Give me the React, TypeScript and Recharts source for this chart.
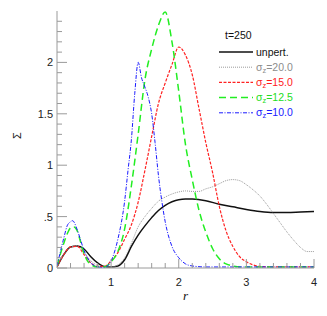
import React from 'react';
import { LineChart, Line, XAxis, YAxis, Legend } from 'recharts';

// ---- data ----
const rUnpert = [0.2, 0.3, 0.4, 0.5, 0.6, 0.7, 0.8, 0.9, 1.0, 1.1, 1.2, 1.3, 1.4, 1.5, 1.6, 1.7, 1.8, 1.9, 2.0, 2.1, 2.2, 2.4, 2.6, 2.8, 3.0, 3.2, 3.4, 3.6, 3.8, 4.0];
const sUnpert = [0.01, 0.13, 0.205, 0.215, 0.185, 0.11, 0.05, 0.015, 0.01, 0.02, 0.08, 0.21, 0.32, 0.41, 0.49, 0.56, 0.61, 0.645, 0.665, 0.67, 0.67, 0.655, 0.62, 0.595, 0.57, 0.55, 0.54, 0.54, 0.545, 0.55];

const rS20 = [0.2, 0.3, 0.4, 0.5, 0.6, 0.7, 0.8, 0.9, 1.0, 1.1, 1.2, 1.3, 1.4, 1.5, 1.6, 1.7, 1.8, 1.9, 2.0, 2.1, 2.2, 2.3, 2.4, 2.5, 2.6, 2.7, 2.8, 2.9, 3.0, 3.1, 3.2, 3.3, 3.4, 3.5, 3.6, 3.7, 3.8, 3.9, 4.0];
const sS20 = [0.01, 0.13, 0.205, 0.215, 0.15, 0.07, 0.025, 0.01, 0.01, 0.03, 0.1, 0.24, 0.4, 0.5, 0.58, 0.65, 0.69, 0.72, 0.74, 0.75, 0.745, 0.745, 0.77, 0.79, 0.82, 0.85, 0.86, 0.85, 0.81, 0.76, 0.7, 0.62, 0.53, 0.44, 0.35, 0.27, 0.2, 0.16, 0.16];

const rS15 = [0.2, 0.3, 0.4, 0.5, 0.6, 0.7, 0.8, 0.9, 1.0, 1.1, 1.2, 1.3, 1.4, 1.5, 1.6, 1.7, 1.8, 1.9, 2.0, 2.1, 2.2, 2.3, 2.4, 2.5, 2.6, 2.7, 2.8, 2.9, 3.0, 3.1, 3.2, 3.4, 4.0];
const sS15 = [0.01, 0.13, 0.205, 0.21, 0.13, 0.05, 0.015, 0.015, 0.07, 0.15, 0.28, 0.42, 0.64, 0.95, 1.28, 1.6, 1.8, 1.98, 2.15, 2.07, 1.88, 1.55, 1.22, 0.93, 0.6, 0.36, 0.21, 0.11, 0.06, 0.03, 0.015, 0.01, 0.01];

const rS125 = [0.2, 0.3, 0.35, 0.4, 0.45, 0.5, 0.55, 0.6, 0.65, 0.7, 0.8, 0.9, 1.0, 1.1, 1.2, 1.3, 1.4, 1.5, 1.6, 1.7, 1.8, 1.9, 2.0, 2.1, 2.2, 2.3, 2.4, 2.5, 2.6, 2.7, 2.8, 2.9, 3.0, 4.0];
const sS125 = [0.02, 0.24, 0.33, 0.39, 0.4, 0.36, 0.25, 0.14, 0.07, 0.035, 0.01, 0.01, 0.06, 0.16, 0.38, 0.8, 1.3, 1.83, 2.13, 2.36, 2.49, 2.2, 1.72, 1.2, 0.86, 0.56, 0.35, 0.19, 0.09, 0.04, 0.02, 0.01, 0.01, 0.01];

const rS10 = [0.2, 0.3, 0.35, 0.4, 0.43, 0.5, 0.55, 0.6, 0.65, 0.7, 0.75, 0.8, 0.9, 1.0, 1.1, 1.2, 1.25, 1.3, 1.35, 1.4, 1.45, 1.5, 1.55, 1.6, 1.65, 1.7, 1.75, 1.8, 1.9, 2.0, 2.1, 2.2, 2.4, 4.0];
const sS10 = [0.02, 0.29, 0.41, 0.45, 0.46, 0.37, 0.27, 0.17, 0.1, 0.05, 0.025, 0.01, 0.005, 0.07, 0.28, 0.65, 0.95, 1.25, 1.7, 2.0, 1.85, 1.76, 1.66, 1.5, 1.22, 0.9, 0.65, 0.45, 0.21, 0.1, 0.04, 0.02, 0.01, 0.01];

const xTicks = [0.4, 0.6, 0.8, 1, 1.2, 1.4, 1.6, 1.8, 2, 2.2, 2.4, 2.6, 2.8, 3, 3.2, 3.4, 3.6, 3.8, 4];
const xMajor = [1, 2, 3, 4];
const yTicks = [0, 0.1, 0.2, 0.3, 0.4, 0.5, 0.6, 0.7, 0.8, 0.9, 1, 1.1, 1.2, 1.3, 1.4, 1.5, 1.6, 1.7, 1.8, 1.9, 2, 2.1, 2.2, 2.3, 2.4];
const yMajor = [0, 0.5, 1, 1.5, 2];
const yMajorLabels = ['0', '.5', '1', '1.5', '2'];

const timeLabel = 't=250';

type Series = { key: string; r: number[]; s: number[]; label: string; sub: boolean; color: string; textColor: string; dash?: string; width: number };

const series: Series[] = [
  { key: 'unpert', r: rUnpert, s: sUnpert, label: 'unpert.', sub: false, color: '#111111', textColor: '#111111', width: 1.5 },
  { key: 's20', r: rS20, s: sS20, label: '=20.0', sub: true, color: '#9a9a9a', textColor: '#8c8c8c', dash: '1 1', width: 1 },
  { key: 's15', r: rS15, s: sS15, label: '=15.0', sub: true, color: '#ff2222', textColor: '#ff1a1a', dash: '3 1.5', width: 1.2 },
  { key: 's125', r: rS125, s: sS125, label: '=12.5', sub: true, color: '#22ee22', textColor: '#22dd22', dash: '7 4', width: 1.5 },
  { key: 's10', r: rS10, s: sS10, label: '=10.0', sub: true, color: '#1a1aff', textColor: '#1a1aff', dash: '4 1.5 1 1.5', width: 1 },
];

const AXIS = '#9a9a9a';
const FONT = '"Liberation Sans", Arial, Helvetica, sans-serif';

const near = (v: number, list: number[]) => list.findIndex((m) => Math.abs(m - v) < 1e-6);

const BottomTick = (props: any) => {
  const { x, y, payload } = props;
  const i = near(payload.value, xMajor);
  return (
    <g>
      <line x1={x} x2={x} y1={y} y2={y - (i >= 0 ? 9 : 5)} stroke={AXIS} />
      {i >= 0 && (
        <text x={x} y={y + 18} textAnchor="middle" fontSize={11} fill="#222" fontFamily={FONT}>
          {payload.value}
        </text>
      )}
    </g>
  );
};

const TopTick = (props: any) => {
  const { x, y, payload } = props;
  const i = near(payload.value, xMajor);
  return <line x1={x} x2={x} y1={y} y2={y + (i >= 0 ? 9 : 5)} stroke={AXIS} />;
};

const LeftTick = (props: any) => {
  const { x, y, payload } = props;
  const i = near(payload.value, yMajor);
  return (
    <g>
      <line x1={x} x2={x + (i >= 0 ? 10 : 5)} y1={y} y2={y} stroke={AXIS} />
      {i >= 0 && (
        <text x={x - 4} y={y + 4} textAnchor="end" fontSize={11} fill="#222" fontFamily={FONT}>
          {yMajorLabels[i]}
        </text>
      )}
    </g>
  );
};

const RightTick = (props: any) => {
  const { x, y, payload } = props;
  const i = near(payload.value, yMajor);
  return <line x1={x} x2={x - (i >= 0 ? 10 : 5)} y1={y} y2={y} stroke={AXIS} />;
};

const LegendBox = () => (
  <svg width={100} height={100} style={{ display: 'block', overflow: 'visible' }}>
    <text x={11} y={15} fontSize={10.5} fill="#111" fontFamily={FONT}>{timeLabel}</text>
    {series.map((s, i) => {
      const y = 28 + i * 15.2;
      return (
        <g key={s.key}>
          <line x1={5} x2={39} y1={y} y2={y} stroke={s.color} strokeWidth={s.width} strokeDasharray={s.dash} />
          <text x={42} y={y + 3.5} fontSize={10.5} fill={s.textColor} fontFamily={FONT}>
            {s.sub ? (
              <>
                σ<tspan fontSize={7.5} dy={2}>z</tspan>
                <tspan dy={-2}>{s.label}</tspan>
              </>
            ) : (
              s.label
            )}
          </text>
        </g>
      );
    })}
  </svg>
);

export default function App() {
  return (
    <div style={{ position: 'absolute', left: 0, top: 0 }}>
      <LineChart width={327} height={316} margin={{ top: 11, right: 13, bottom: 0, left: 0 }}>
        <XAxis
          dataKey="r"
          type="number"
          domain={[0.2, 4]}
          ticks={xTicks}
          interval={0}
          height={48}
          stroke={AXIS}
          tickSize={0}
          tickMargin={0}
          tickLine={false}
          tick={<BottomTick />}
          allowDataOverflow
          label={{
            content: (p: any) => {
              const vb = p.viewBox || { x: 57, y: 268, width: 257 };
              return (
                <text x={vb.x + vb.width / 2} y={vb.y + 32} textAnchor="middle" fontSize={13} fontStyle="italic" fill="#111" fontFamily='"Liberation Serif", serif'>
                  r
                </text>
              );
            },
          }}
        />
        <XAxis
          xAxisId="top"
          orientation="top"
          dataKey="r"
          type="number"
          domain={[0.2, 4]}
          ticks={xTicks}
          interval={0}
          height={0}
          stroke={AXIS}
          tickSize={0}
          tickMargin={0}
          tickLine={false}
          tick={<TopTick />}
          allowDataOverflow
        />
        <YAxis
          type="number"
          domain={[0, 2.5]}
          ticks={yTicks}
          interval={0}
          width={57}
          stroke={AXIS}
          tickSize={0}
          tickMargin={0}
          tickLine={false}
          tick={<LeftTick />}
          allowDataOverflow
          label={{
            content: (p: any) => {
              const vb = p.viewBox || { x: 0, y: 11, width: 57, height: 257 };
              const cx = vb.x + 17;
              const cy = vb.y + vb.height / 2 - 4;
              return (
                <text x={cx} y={cy} transform={`rotate(-90 ${cx} ${cy})`} textAnchor="middle" dominantBaseline="central" fontSize={11} fill="#222" fontFamily={FONT}>
                  Σ
                </text>
              );
            },
          }}
        />
        <YAxis
          yAxisId="right"
          orientation="right"
          type="number"
          domain={[0, 2.5]}
          ticks={yTicks}
          interval={0}
          width={0}
          stroke={AXIS}
          tickSize={0}
          tickMargin={0}
          tickLine={false}
          tick={<RightTick />}
          allowDataOverflow
        />
        <Legend
          layout="vertical"
          align="center"
          verticalAlign="middle"
          content={() => <LegendBox />}
          wrapperStyle={{ position: 'absolute', left: 214, top: 24, width: 100, height: 100 }}
        />
        {series.map((s) => (
          <Line
            key={s.key}
            name={s.key}
            data={s.r.map((r, i) => ({ r, v: s.s[i] }))}
            dataKey="v"
            type="monotone"
            stroke={s.color}
            strokeWidth={s.width}
            strokeDasharray={s.dash}
            dot={false}
            activeDot={false}
            isAnimationActive={false}
          />
        ))}
      </LineChart>
    </div>
  );
}
